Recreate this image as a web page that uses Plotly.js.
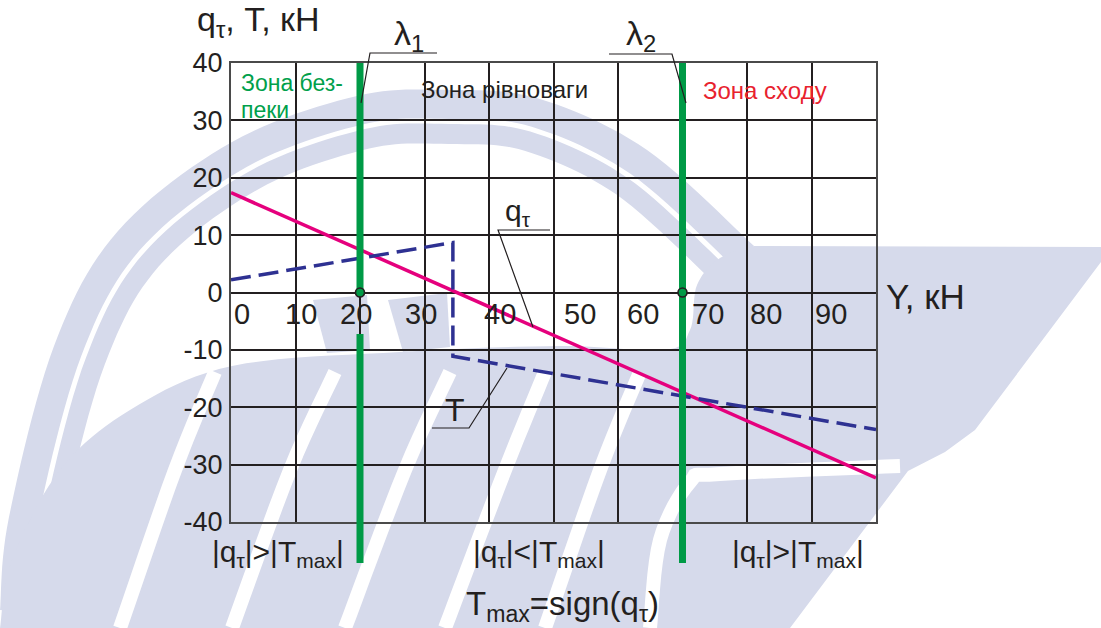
<!DOCTYPE html>
<html>
<head>
<meta charset="utf-8">
<script src="https://cdn.plot.ly/plotly-3.0.1.min.js"></script>
<style>
  html, body { margin: 0; padding: 0; background: #fff; }
  #chart { width: 1101px; height: 628px; }
</style>
</head>
<body>
<div id="chart"></div>
<script>
// Lateral load Y, kN (horizontal axis)
const loadY = [0, 100];
// Friction shear force q_tau along the load range
const qTau = [17.4, -32.3];
// Holding force T: rises to the jump, drops, then decreases
const tLoad = [0, 34.4, 34.4, 100];
const tForce = [2.2, 8.7, -11.1, -23.9];
// Zone boundaries lambda1 and lambda2 on the load axis
const lambdaLoad = [20, 70];
const lambdaNames = ['λ<sub>1</sub>', 'λ<sub>2</sub>'];
// Axis labels
const xTickValues = [0, 10, 20, 30, 40, 50, 60, 70, 80, 90];
const yTickValues = [-40, -30, -20, -10, 0, 10, 20, 30, 40];
const yTickText = ['-40', '-30', '-20', '-10', '0', '10', '20', '30', '40'];
// Zone captions and conditions
const zoneNames = ['Зона без-', 'пеки', 'Зона рівноваги', 'Зона сходу'];
const zoneConditions = [
  '|q<sub>τ</sub>|&gt;|T<sub>max</sub>|',
  '|q<sub>τ</sub>|&lt;|T<sub>max</sub>|',
  '|q<sub>τ</sub>|&gt;|T<sub>max</sub>|'
];

// ---- layout geometry (figure pixels) ----
const W = 1101, H = 628;
const PL = 231, PT = 63, PW = 645, PH = 459;
const px = x => (x - PL) / PW;
const py = y => (PT + PH - y) / PH;
const FONT = 'Liberation Sans, Arial, Helvetica, sans-serif';
const INK = '#231f20';
const GREEN = '#009a46';
const TINT = '#d6daeb';

// nudges of the load labels (in axis units), left-anchored
const xTickShift = [0.2, -1.9, -3.4, -3.3, -1.1, 1.3, 1.1, 1.2, 0.2, 0.2];

// ---- faint emblem in the background ----
function spline(pts, n) {
  const out = [];
  for (let i = 0; i < pts.length - 1; i++) {
    const p0 = pts[Math.max(i - 1, 0)], p1 = pts[i], p2 = pts[i + 1], p3 = pts[Math.min(i + 2, pts.length - 1)];
    for (let k = 0; k < n; k++) {
      const t = k / n, t2 = t * t, t3 = t2 * t;
      const f = (a, b, c, d) => 0.5 * ((2 * b) + (-a + c) * t + (2 * a - 5 * b + 4 * c - d) * t2 + (-a + 3 * b - 3 * c + d) * t3);
      out.push([f(p0[0], p1[0], p2[0], p3[0]), f(p0[1], p1[1], p2[1], p3[1])]);
    }
  }
  out.push(pts[pts.length - 1]);
  return out;
}
function offset(pts, d) {
  return pts.map((p, i) => {
    const a = pts[Math.max(i - 1, 0)], b = pts[Math.min(i + 1, pts.length - 1)];
    const dx = b[0] - a[0], dy = b[1] - a[1], L = Math.hypot(dx, dy) || 1;
    return [p[0] - dy / L * d, p[1] + dx / L * d];
  });
}
function pathOf(pts, close) {
  return pts.map((p, i) => (i ? 'L' : 'M') + px(p[0]).toFixed(4) + ',' + py(p[1]).toFixed(4)).join('') + (close ? 'Z' : '');
}
function band(edge, d1, d2) {
  const a = offset(edge, d1), b = offset(edge, d2).reverse();
  return pathOf(a.concat(b), true);
}
const arcEdge = spline([[0, 610], [9, 517], [54, 346], [118, 231], [232, 142], [357, 96], [450, 90], [540, 99], [647, 150], [754, 246]], 12);
const emblemFill = [
  band(arcEdge, 0, 29),
  band(arcEdge, 34, 54),
  pathOf(spline([[0, 628], [12, 560], [60, 470], [130, 410], [232, 366], [400, 352], [560, 346], [665, 350], [690, 330], [697, 285], [720, 258], [754, 246]], 10)
    .concat([[1101, 247], [1101, 262], [975, 430], [945, 452], [908, 471], [790, 628]]), true),
  pathOf([[313, 300], [367, 295], [370, 350], [327, 353]], true),
  pathOf([[388, 300], [447, 293], [450, 347], [403, 352]], true)
];
const emblemCuts = [
  [[120, 628], [175, 470], [215, 372]],
  [[232, 628], [290, 470], [335, 372]],
  [[345, 628], [405, 470], [450, 372]],
  [[445, 628], [505, 470], [545, 372]],
  [[545, 628], [600, 470], [640, 372]],
  [[650, 628], [660, 540], [690, 482], [720, 474], [900, 466]]
];
const shapes = [];
emblemFill.forEach(p => shapes.push({ type: 'path', xref: 'paper', yref: 'paper', path: p, fillcolor: TINT, line: { width: 0 }, layer: 'below' }));
emblemCuts.forEach(c => shapes.push({ type: 'path', xref: 'paper', yref: 'paper', path: pathOf(spline(c, 8), false), line: { color: '#ffffff', width: 14 }, layer: 'below' }));

// ---- zone boundary lines (lambda1 has a gap around its load label) ----
const lamSegments = [
  [lambdaLoad[0], py(563), py(334)],
  [lambdaLoad[0], py(289), 1],
  [lambdaLoad[1], py(563), 1]
];
lamSegments.forEach(s => shapes.push({
  type: 'line', xref: 'x', yref: 'paper', x0: s[0], x1: s[0], y0: s[1], y1: s[2],
  line: { color: GREEN, width: 7 }, layer: 'above'
}));
// small ring where each boundary meets the load axis
lambdaLoad.forEach(v => shapes.push({
  type: 'circle', xref: 'x', yref: 'y', xsizemode: 'pixel', ysizemode: 'pixel',
  xanchor: v, yanchor: 0, x0: -4.5, x1: 4.5, y0: -4.5, y1: 4.5,
  fillcolor: GREEN, line: { color: INK, width: 1.6 }, layer: 'above'
}));

// ---- leader lines for callouts ----
const leaders = [
  [[437, 53], [370, 53], [361, 103]],
  [[609, 54], [672, 54], [686, 103]],
  [[550, 230], [498, 230], [533, 327]],
  [[432, 428], [469, 428], [507, 368]]
];
leaders.forEach(l => shapes.push({ type: 'path', xref: 'paper', yref: 'paper', path: pathOf(l, false), line: { color: INK, width: 1.2 } }));

// ---- text ----
const ann = [];
const txt = (x, y, text, size, opts) => ann.push(Object.assign({
  xref: 'paper', yref: 'paper', x: px(x), y: py(y), text: text, showarrow: false,
  xanchor: 'left', yanchor: 'middle', font: { family: FONT, size: size, color: INK }
}, opts || {}));

xTickValues.forEach((v, i) => ann.push({
  xref: 'x', yref: 'y', x: v + xTickShift[i], y: 0, yshift: -3, text: String(v), showarrow: false,
  xanchor: 'left', yanchor: 'top', font: { family: FONT, size: 29, color: INK }
}));

txt(195, 21, 'q<sub>τ</sub>, T, кН', 34);
txt(884, 296, 'Y, кН', 35);
txt(392, 36, lambdaNames[0], 34);
txt(624, 36, lambdaNames[1], 34);
txt(239, 83, zoneNames[0], 23, { font: { family: FONT, size: 23, color: '#00a04b' } });
txt(239, 110, zoneNames[1], 23, { font: { family: FONT, size: 23, color: '#00a04b' } });
txt(419, 89, zoneNames[2], 24);
txt(701, 90, zoneNames[3], 24, { font: { family: FONT, size: 24, color: '#e8222e' } });
txt(503, 212, 'q<sub>τ</sub>', 30);
txt(443, 410, 'T', 32);
txt(278, 553, zoneConditions[0], 30, { xanchor: 'center' });
txt(539, 553, zoneConditions[1], 30, { xanchor: 'center' });
txt(798, 553, zoneConditions[2], 30, { xanchor: 'center' });
txt(562, 606, 'T<sub>max</sub>=sign(q<sub>τ</sub>)', 33, { xanchor: 'center' });

// ---- traces ----
const traces = [
  {
    x: loadY, y: qTau, type: 'scatter', mode: 'lines', name: 'qτ',
    line: { color: '#e5007d', width: 3.5 }, hoverinfo: 'skip'
  },
  {
    x: tLoad, y: tForce, type: 'scatter', mode: 'lines', name: 'T',
    line: { color: '#2e3192', width: 3.5, dash: '20px,8px' }, hoverinfo: 'skip'
  }
];

const layout = {
  width: W, height: H,
  margin: { l: PL, r: W - PL - PW, t: PT, b: H - PT - PH, pad: 0 },
  paper_bgcolor: '#ffffff', plot_bgcolor: 'rgba(0,0,0,0)',
  showlegend: false,
  xaxis: {
    range: [0, 100], tick0: 0, dtick: 10, showticklabels: false, ticks: '',
    showgrid: true, gridcolor: INK, gridwidth: 2, zeroline: false,
    showline: true, linecolor: '#4a4a4a', linewidth: 2, mirror: true, fixedrange: true
  },
  yaxis: {
    range: [-40, 40], tickvals: yTickValues, ticktext: yTickText, ticks: '',
    ticklabelstandoff: 1,
    tickfont: { family: FONT, size: 27, color: INK },
    showgrid: true, gridcolor: INK, gridwidth: 2, zeroline: false,
    showline: true, linecolor: '#4a4a4a', linewidth: 2, mirror: true, fixedrange: true
  },
  shapes: shapes,
  annotations: ann
};

Plotly.newPlot('chart', traces, layout, { displayModeBar: false });
</script>
</body>
</html>
